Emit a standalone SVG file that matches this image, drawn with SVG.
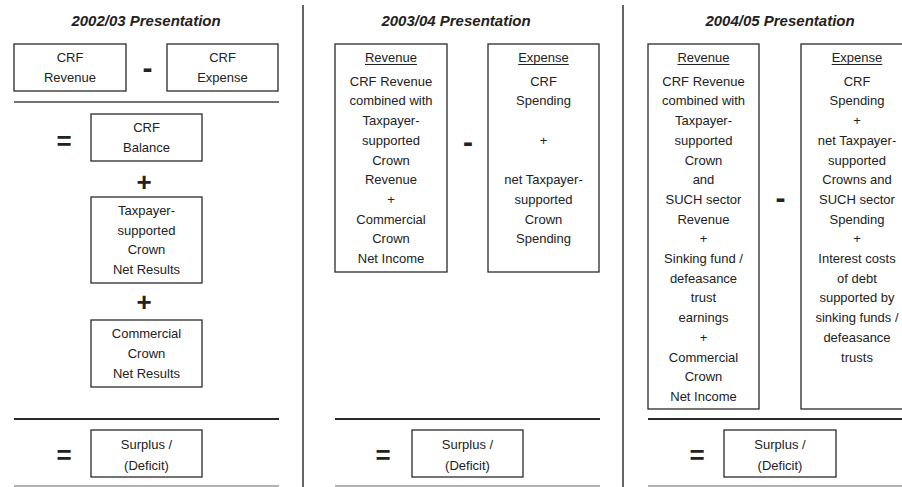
<svg xmlns="http://www.w3.org/2000/svg" width="902" height="487" viewBox="0 0 902 487">
<style>
  .bg{fill:#ffffff}
  .box{fill:#ffffff;stroke:#2a2a2a;stroke-width:1.3}
  .t{font-family:"Liberation Sans",Arial,sans-serif;font-size:13px;fill:#222;text-anchor:middle}
  .title{font-family:"Liberation Sans",Arial,sans-serif;font-size:15px;font-weight:bold;font-style:italic;fill:#222;text-anchor:middle}
  .op{font-family:"Liberation Sans",Arial,sans-serif;font-size:26px;font-weight:bold;fill:#222;text-anchor:middle}
  .minus{font-family:"Liberation Sans",Arial,sans-serif;font-size:30px;font-weight:bold;fill:#222;text-anchor:middle}
  .sep{stroke:#2a2a2a;stroke-width:2}
  .septhin{stroke:#444;stroke-width:1.5}
  .bot{stroke:#666;stroke-width:1.2}
  .div{stroke:#333;stroke-width:1.5}
  .ul{stroke:#222;stroke-width:1}
</style>
<rect class="bg" x="0" y="0" width="902" height="487"/>

<g id="dividers">
  <line class="div" x1="303" y1="5" x2="303" y2="487"/>
  <line class="div" x1="623" y1="5" x2="623" y2="487"/>
</g>

<g id="connectors">
  <line class="septhin" x1="14" y1="102" x2="279" y2="102"/>
  <line class="sep" x1="14" y1="419" x2="279" y2="419"/>
  <line class="bot" x1="14" y1="486" x2="279" y2="486"/>
  <line class="sep" x1="335" y1="419" x2="600" y2="419"/>
  <line class="bot" x1="335" y1="486" x2="600" y2="486"/>
  <line class="sep" x1="648" y1="419" x2="902" y2="419"/>
  <line class="bot" x1="648" y1="486" x2="902" y2="486"/>
</g>

<!-- Panel 1 -->
<g id="title1"><text class="title" x="146" y="26">2002/03 Presentation</text></g>
<g id="p1-crf-revenue">
  <rect class="box" x="14" y="44" width="112" height="47"/>
  <text class="t" x="70" y="62">CRF</text>
  <text class="t" x="70" y="82">Revenue</text>
</g>
<g id="p1-minus"><text class="minus" x="147.5" y="78">-</text></g>
<g id="p1-crf-expense">
  <rect class="box" x="167" y="44" width="111" height="47"/>
  <text class="t" x="222.5" y="62">CRF</text>
  <text class="t" x="222.5" y="82">Expense</text>
</g>
<g id="p1-eq1"><text class="op" x="64" y="150">=</text></g>
<g id="p1-crf-balance">
  <rect class="box" x="91" y="114" width="111" height="47"/>
  <text class="t" x="146.5" y="131.5">CRF</text>
  <text class="t" x="146.5" y="151.5">Balance</text>
</g>
<g id="p1-plus1"><text class="op" x="144" y="191">+</text></g>
<g id="p1-taxpayer">
  <rect class="box" x="91" y="197" width="111" height="86"/>
  <text class="t" x="146.5" y="215">Taxpayer-</text>
  <text class="t" x="146.5" y="234.6">supported</text>
  <text class="t" x="146.5" y="254.2">Crown</text>
  <text class="t" x="146.5" y="273.8">Net Results</text>
</g>
<g id="p1-plus2"><text class="op" x="144" y="311">+</text></g>
<g id="p1-commercial">
  <rect class="box" x="91" y="320" width="111" height="67"/>
  <text class="t" x="146.5" y="337.5">Commercial</text>
  <text class="t" x="146.5" y="357.8">Crown</text>
  <text class="t" x="146.5" y="378">Net Results</text>
</g>
<g id="p1-eq2"><text class="op" x="64" y="464">=</text></g>
<g id="p1-surplus">
  <rect class="box" x="91" y="430" width="111" height="47"/>
  <text class="t" x="146.5" y="449">Surplus /</text>
  <text class="t" x="146.5" y="470">(Deficit)</text>
</g>

<!-- Panel 2 -->
<g id="title2"><text class="title" x="456" y="26">2003/04 Presentation</text></g>
<g id="p2-revenue">
  <rect class="box" x="335" y="44" width="112" height="228"/>
  <text class="t" x="391" y="62">Revenue</text>
  <line class="ul" x1="365" y1="64.5" x2="417" y2="64.5"/>
  <text class="t" x="391" y="85.7">CRF Revenue</text>
  <text class="t" x="391" y="105.4">combined with</text>
  <text class="t" x="391" y="125.1">Taxpayer-</text>
  <text class="t" x="391" y="144.8">supported</text>
  <text class="t" x="391" y="164.5">Crown</text>
  <text class="t" x="391" y="184.2">Revenue</text>
  <text class="t" x="391" y="203.9">+</text>
  <text class="t" x="391" y="223.6">Commercial</text>
  <text class="t" x="391" y="243.3">Crown</text>
  <text class="t" x="391" y="263">Net Income</text>
</g>
<g id="p2-minus"><text class="minus" x="468" y="151.5">-</text></g>
<g id="p2-expense">
  <rect class="box" x="488" y="44" width="111" height="228"/>
  <text class="t" x="543.5" y="62">Expense</text>
  <line class="ul" x1="518.2" y1="64.5" x2="568.8" y2="64.5"/>
  <text class="t" x="543.5" y="85.7">CRF</text>
  <text class="t" x="543.5" y="105.4">Spending</text>
  <text class="t" x="543.5" y="144.8">+</text>
  <text class="t" x="543.5" y="184.2">net Taxpayer-</text>
  <text class="t" x="543.5" y="203.9">supported</text>
  <text class="t" x="543.5" y="223.6">Crown</text>
  <text class="t" x="543.5" y="243.3">Spending</text>
</g>
<g id="p2-eq"><text class="op" x="383" y="464">=</text></g>
<g id="p2-surplus">
  <rect class="box" x="412" y="430" width="111" height="47"/>
  <text class="t" x="467.5" y="449">Surplus /</text>
  <text class="t" x="467.5" y="470">(Deficit)</text>
</g>

<!-- Panel 3 -->
<g id="title3"><text class="title" x="780" y="26">2004/05 Presentation</text></g>
<g id="p3-revenue">
  <rect class="box" x="648" y="44" width="111" height="365"/>
  <text class="t" x="703.5" y="62">Revenue</text>
  <line class="ul" x1="677.5" y1="64.5" x2="729.5" y2="64.5"/>
  <text class="t" x="703.5" y="85.7">CRF Revenue</text>
  <text class="t" x="703.5" y="105.4">combined with</text>
  <text class="t" x="703.5" y="125.1">Taxpayer-</text>
  <text class="t" x="703.5" y="144.8">supported</text>
  <text class="t" x="703.5" y="164.5">Crown</text>
  <text class="t" x="703.5" y="184.2">and</text>
  <text class="t" x="703.5" y="203.9">SUCH sector</text>
  <text class="t" x="703.5" y="223.6">Revenue</text>
  <text class="t" x="703.5" y="243.3">+</text>
  <text class="t" x="703.5" y="263">Sinking fund /</text>
  <text class="t" x="703.5" y="282.7">defeasance</text>
  <text class="t" x="703.5" y="302.4">trust</text>
  <text class="t" x="703.5" y="322.1">earnings</text>
  <text class="t" x="703.5" y="341.8">+</text>
  <text class="t" x="703.5" y="361.5">Commercial</text>
  <text class="t" x="703.5" y="381.2">Crown</text>
  <text class="t" x="703.5" y="400.9">Net Income</text>
</g>
<g id="p3-minus"><text class="minus" x="780.5" y="208">-</text></g>
<g id="p3-expense">
  <rect class="box" x="801" y="44" width="112" height="365"/>
  <text class="t" x="857" y="62">Expense</text>
  <line class="ul" x1="831.7" y1="64.5" x2="882.3" y2="64.5"/>
  <text class="t" x="857" y="85.7">CRF</text>
  <text class="t" x="857" y="105.4">Spending</text>
  <text class="t" x="857" y="125.1">+</text>
  <text class="t" x="857" y="144.8">net Taxpayer-</text>
  <text class="t" x="857" y="164.5">supported</text>
  <text class="t" x="857" y="184.2">Crowns and</text>
  <text class="t" x="857" y="203.9">SUCH sector</text>
  <text class="t" x="857" y="223.6">Spending</text>
  <text class="t" x="857" y="243.3">+</text>
  <text class="t" x="857" y="263">Interest costs</text>
  <text class="t" x="857" y="282.7">of debt</text>
  <text class="t" x="857" y="302.4">supported by</text>
  <text class="t" x="857" y="322.1">sinking funds /</text>
  <text class="t" x="857" y="341.8">defeasance</text>
  <text class="t" x="857" y="361.5">trusts</text>
</g>
<g id="p3-eq"><text class="op" x="697" y="464">=</text></g>
<g id="p3-surplus">
  <rect class="box" x="724" y="430" width="112" height="47"/>
  <text class="t" x="780" y="449">Surplus /</text>
  <text class="t" x="780" y="470">(Deficit)</text>
</g>
</svg>
